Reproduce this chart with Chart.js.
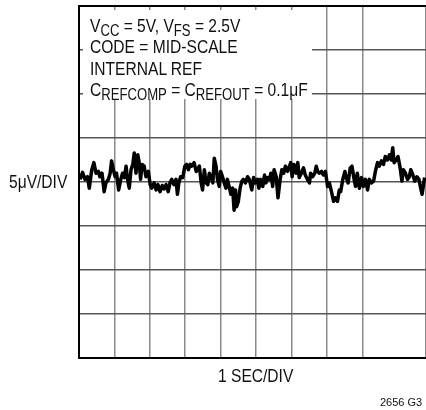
<!DOCTYPE html>
<html>
<head>
<meta charset="utf-8">
<script src="https://cdn.jsdelivr.net/npm/chart.js@4"></script>
<style>
  html, body { margin: 0; padding: 0; background: #fff; }
  #wrap { position: relative; width: 426px; height: 410px; overflow: hidden; }
  #chart { position: absolute; left: 0; top: 0; }
  .lbl { position: absolute; font-family: 'Liberation Sans', Arial, sans-serif;
         color: #111; white-space: nowrap; line-height: 18px; font-size: 19px;
         transform: scaleX(0.82); transform-origin: 0 0; }
  .lbl sub { font-size: 16px; vertical-align: -4px; line-height: 0; }
</style>
</head>
<body>
<div id="wrap">
  <canvas id="chart" width="426" height="410"></canvas>
  <div class="lbl" style="left:90px; top:17px;">V<sub>CC</sub> = 5V, V<sub>FS</sub> = 2.5V</div>
  <div class="lbl" style="left:90px; top:38px;">CODE = MID-SCALE</div>
  <div class="lbl" style="left:90px; top:60px;">INTERNAL REF</div>
  <div class="lbl" style="left:90px; top:81px;">C<sub>REFCOMP</sub> = C<sub>REFOUT</sub> = 0.1μF</div>
  <div class="lbl" style="left:9px; top:173px;">5μV/DIV</div>
  <div class="lbl" style="left:218px; top:367px;">1 SEC/DIV</div>
  <div class="lbl" style="left:380px; top:393px; font-size:11px; transform:none;">2656 G3</div>
</div>
<script>
// time axis in seconds (1 s/div), noise in microvolts (5 uV/div)
const time = [0.03, 0.10, 0.17, 0.24, 0.29, 0.36, 0.42, 0.48, 0.55, 0.59, 0.65, 0.71, 0.76, 0.83, 0.88, 0.92, 0.97,
  1.02, 1.06, 1.12, 1.18, 1.23, 1.28, 1.33, 1.37, 1.42, 1.47, 1.52, 1.56, 1.61, 1.66, 1.70, 1.74, 1.78, 1.84, 1.89, 1.96,
  2.01, 2.05, 2.12, 2.18, 2.23, 2.29, 2.35, 2.40, 2.46, 2.52, 2.57, 2.62, 2.68, 2.74, 2.78, 2.82, 2.87, 2.93, 2.99,
  3.04, 3.09, 3.14, 3.18, 3.25, 3.31, 3.35, 3.40, 3.45, 3.49, 3.54, 3.59, 3.64, 3.68, 3.73, 3.78, 3.82, 3.87, 3.91, 3.96,
  4.00, 4.06, 4.10, 4.15, 4.19, 4.25, 4.29, 4.34, 4.38, 4.42, 4.45, 4.50, 4.55, 4.60, 4.64, 4.70, 4.76, 4.81, 4.88, 4.93, 4.98,
  5.04, 5.08, 5.13, 5.19, 5.24, 5.28, 5.33, 5.38, 5.42, 5.47, 5.51, 5.57, 5.62, 5.68, 5.73, 5.78, 5.83, 5.89, 5.93, 5.98,
  6.02, 6.07, 6.13, 6.18, 6.22, 6.28, 6.34, 6.39, 6.45, 6.51, 6.54, 6.60, 6.66, 6.70, 6.74, 6.79, 6.85, 6.90, 6.96,
  7.02, 7.07, 7.13, 7.19, 7.24, 7.30, 7.35, 7.39, 7.45, 7.51, 7.54, 7.60, 7.66, 7.71, 7.77, 7.81, 7.86, 7.92, 7.98,
  8.03, 8.09, 8.15, 8.20, 8.26, 8.32, 8.37, 8.43, 8.48, 8.54, 8.60, 8.65, 8.71, 8.77, 8.82, 8.86, 8.90, 8.96,
  9.01, 9.07, 9.12, 9.16, 9.22, 9.28, 9.33, 9.37, 9.43, 9.48, 9.54, 9.60, 9.65, 9.69, 9.73, 9.76];
const noise = [0.3, 1.1, 0.3, 0.6, -0.7, 1.4, 2.2, 1.0, 1.2, 0.6, 1.0, -1.1, -0.1, 0.3, 1.0, 2.4, 1.4,
  0.6, 1.0, -0.9, 0.3, 1.0, 0.5, 1.8, 0.3, -0.7, 1.4, 2.0, 3.3, 1.0, 3.1, 2.2, 0.3, 2.0, 1.8, 0.6, 1.2,
  -0.3, -0.7, -0.1, -0.9, -0.3, -1.1, -0.4, -0.8, -0.3, -1.1, -0.1, 0.3, -0.3, 0.3, -1.4, -0.1, 0.6, 0.5, 1.8,
  2.0, 1.4, 2.0, 1.8, 2.2, 1.2, 1.4, 1.8, -0.1, -0.9, 1.4, -0.1, -0.3, 1.0, 0.6, -0.1, 2.7, 1.8, 0.3, -0.5,
  1.2, 0.5, -0.1, -0.7, 0.3, -0.7, -1.4, -0.7, -3.2, -0.9, -2.8, -2.2, -0.7, 0.1, 0.3, -0.1, 0.6, 0.3, -0.9, 0.5, -0.1,
  0.3, -0.7, 0.3, -0.5, 0.8, -0.1, 0.5, 0.3, 1.0, -0.5, 1.4, 0.6, -1.8, 0.3, 1.4, 1.0, 1.8, 1.2, 1.6, 2.2,
  0.6, 2.0, 1.0, 2.2, 0.5, 1.0, 1.6, 0.8, 0.3, -0.1, 1.0, 0.6, 1.0, 1.8, 1.2, 1.0, 1.2, 0.8, 1.2,
  -0.5, -0.1, -1.1, -2.2, -1.8, -2.2, -0.9, -1.1, 0.3, 1.2, 0.6, -0.1, 1.6, 1.8, 0.3, -0.5, 1.0, -0.7, 0.5,
  -0.5, 0.3, -0.9, 0.3, -0.1, 0.1, 1.2, 2.2, 1.8, 2.4, 2.0, 2.9, 2.5, 3.1, 2.5, 3.9, 2.2, 2.5,
  2.9, 1.6, 0.1, 1.4, 1.0, 0.3, 0.6, 1.4, 0.8, 0.1, 0.6, 0.3, -0.7, -1.4, -0.3, 0.5];

// blank panel behind the condition text, leaving short grid stubs at the frame
const textPanel = {
  id: 'textPanel',
  beforeDatasetsDraw(chart) {
    const { ctx, chartArea } = chart;
    ctx.save();
    ctx.fillStyle = '#fff';
    ctx.fillRect(chartArea.left + 4, chartArea.top + 4, 312 - chartArea.left - 4, 99 - chartArea.top - 4);
    ctx.restore();
  }
};

new Chart(document.getElementById('chart'), {
  type: 'line',
  data: {
    datasets: [{
      data: time.map((t, i) => ({ x: t, y: noise[i] })),
      borderColor: '#000',
      borderWidth: 3.5,
      pointRadius: 0,
      tension: 0,
      borderJoinStyle: 'round'
    }]
  },
  options: {
    responsive: false,
    animation: false,
    layout: { padding: { left: 79, top: 6, right: 0, bottom: 52 } },
    plugins: { legend: { display: false }, tooltip: { enabled: false } },
    scales: {
      x: {
        type: 'linear', min: 0, max: 9.8,
        ticks: { display: false, stepSize: 1 },
        grid: { color: '#8a8a8a', lineWidth: 1.5, drawTicks: false },
        border: { color: '#000', width: 2 }
      },
      y: {
        min: -20, max: 20,
        ticks: { display: false, stepSize: 5 },
        grid: {
          color: c => c.tick.value === 20 ? '#000' : '#555',
          lineWidth: c => c.tick.value === 20 ? 2 : 1.5,
          drawTicks: false
        },
        border: { color: '#000', width: 2 }
      }
    }
  },
  plugins: [textPanel]
});
</script>
</body>
</html>
